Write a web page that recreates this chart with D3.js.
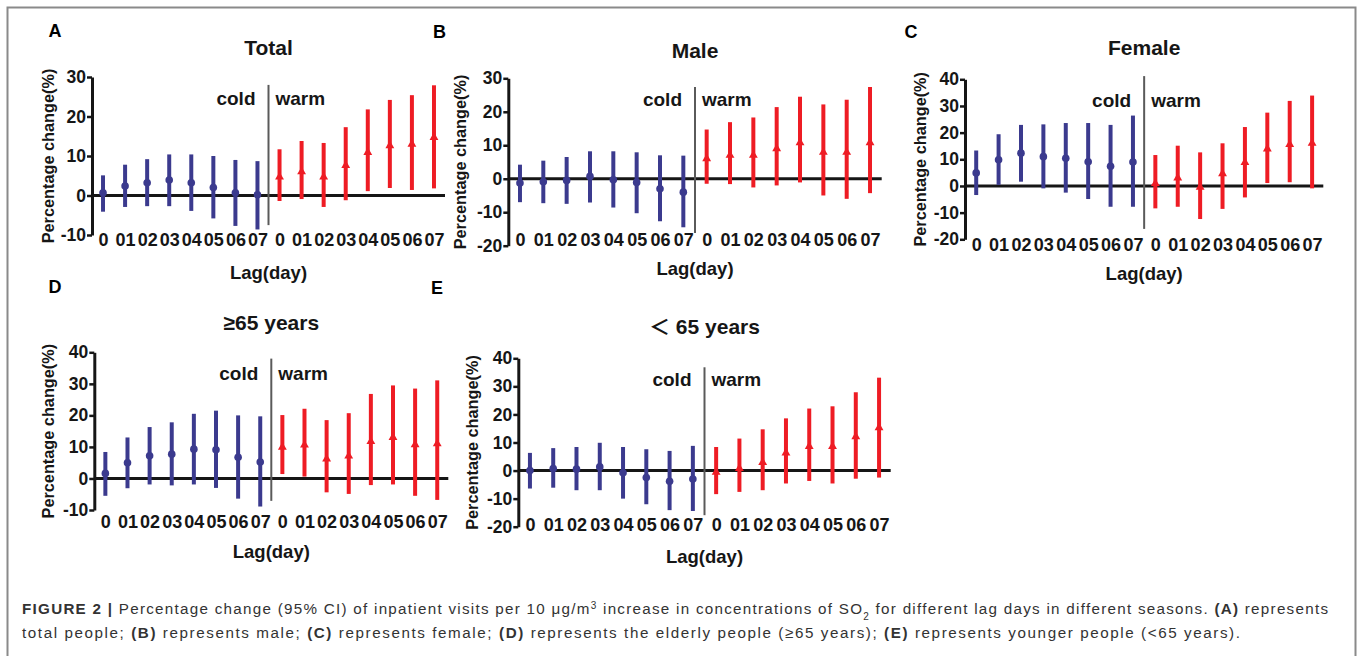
<!DOCTYPE html>
<html>
<head>
<meta charset="utf-8">
<script src="https://cdn.jsdelivr.net/npm/d3@7"></script>
<style>
  html, body { margin: 0; padding: 0; background: #fff; }
  svg { display: block; }
  text { font-family: "Liberation Sans", Arial, "Noto Sans CJK SC", sans-serif; }
</style>
</head>
<body>
<svg id="chart" width="1358" height="656"></svg>
<script>
// ---------- DATA ----------
const lagLabels = ["0", "01", "02", "03", "04", "05", "06", "07"];
const seasons = ["cold", "warm"];

// Panel A: Total
const totalColdEst = [0.7, 2.4, 3.2, 3.9, 3.2, 2.0, 0.7, 0.2];
const totalColdLo  = [-4.1, -2.9, -2.7, -2.7, -3.9, -5.8, -7.7, -8.6];
const totalColdHi  = [5.1, 7.8, 9.2, 10.4, 10.4, 10.0, 9.0, 8.7];
const totalWarmEst = [4.7, 6.0, 4.7, 7.6, 10.9, 12.6, 13.0, 14.7];
const totalWarmLo  = [-1.4, -0.9, -2.9, -1.2, 1.1, 1.9, 1.4, 1.8];
const totalWarmHi  = [11.7, 13.8, 13.3, 17.3, 21.8, 24.2, 25.4, 27.9];

// Panel B: Male
const maleColdEst = [-1.3, -0.9, -0.5, 0.7, -0.3, -1.1, -3.0, -4.0];
const maleColdLo  = [-7.0, -7.3, -7.5, -7.1, -8.6, -10.3, -12.7, -14.5];
const maleColdHi  = [4.2, 5.4, 6.5, 8.2, 8.2, 7.9, 7.0, 6.9];
const maleWarmEst = [6.0, 7.0, 7.0, 9.0, 10.8, 7.9, 7.9, 10.8];
const maleWarmLo  = [-1.5, -1.6, -2.6, -2.0, -1.1, -5.0, -6.0, -4.3];
const maleWarmHi  = [14.7, 16.9, 18.3, 21.4, 24.5, 22.2, 23.6, 27.4];

// Panel C: Female
const femaleColdEst = [4.9, 9.8, 12.3, 11.0, 10.4, 9.1, 7.4, 9.0];
const femaleColdLo  = [-3.4, 0.4, 1.6, -0.9, -2.5, -4.9, -7.8, -7.8];
const femaleColdHi  = [13.3, 19.4, 22.9, 23.1, 23.6, 23.6, 22.9, 26.4];
const femaleWarmEst = [0.9, 3.0, -0.5, 4.6, 8.8, 13.9, 15.6, 16.0];
const femaleWarmLo  = [-8.4, -7.8, -12.4, -8.6, -4.3, 1.1, 1.4, -0.9];
const femaleWarmHi  = [11.6, 15.1, 12.6, 16.0, 22.1, 27.5, 31.9, 33.9];

// Panel D: >=65 years
const oldColdEst = [1.6, 5.0, 7.2, 7.7, 9.3, 9.1, 6.7, 5.2];
const oldColdLo  = [-5.5, -3.1, -1.9, -2.2, -1.9, -3.0, -6.4, -8.9];
const oldColdHi  = [8.4, 13.0, 16.3, 17.8, 20.5, 21.5, 20.0, 19.7];
const oldWarmEst = [9.9, 10.6, 6.2, 7.1, 11.7, 13.0, 10.7, 11.0];
const oldWarmLo  = [1.4, 0.6, -4.4, -4.9, -2.1, -1.9, -5.5, -6.8];
const oldWarmHi  = [20.1, 22.1, 18.5, 20.7, 26.8, 29.5, 28.5, 31.1];

// Panel E: <65 years
const youngColdEst = [0.0, 0.7, 0.5, 1.3, -0.8, -2.5, -3.8, -3.0];
const youngColdLo  = [-6.4, -6.1, -7.0, -7.0, -10.0, -12.0, -14.1, -14.4];
const youngColdHi  = [6.3, 8.0, 8.4, 9.9, 8.4, 7.6, 7.0, 8.8];
const youngWarmEst = [-0.6, 0.8, 2.9, 6.3, 8.6, 8.6, 12.1, 15.3];
const youngWarmLo  = [-8.4, -7.6, -7.0, -4.6, -3.7, -4.6, -2.9, -2.5];
const youngWarmHi  = [8.4, 11.4, 14.7, 18.6, 22.1, 22.9, 27.9, 33.1];

const panelLetters = ["A", "B", "C", "D", "E"];
const panelTitles = ["Total", "Male", "Female", "≥65 years", "＜ 65 years"];
const yDomains = [[-10, 30], [-20, 30], [-20, 40], [-10, 40], [-20, 40]];
const yTickValues = [
  [-10, 0, 10, 20, 30],
  [-20, -10, 0, 10, 20, 30],
  [-20, -10, 0, 10, 20, 30, 40],
  [-10, 0, 10, 20, 30, 40],
  [-20, -10, 0, 10, 20, 30, 40]
];
const dividerSpans = [[28, -7.5], [27.4, -16.2], [41.2, -16.1], [38, -7.1], [36.8, -15.9]];
const yAxisTitle = "Percentage change(%)";
const xAxisTitle = "Lag(day)";

const panelData = [
  { cold: [totalColdEst, totalColdLo, totalColdHi], warm: [totalWarmEst, totalWarmLo, totalWarmHi] },
  { cold: [maleColdEst, maleColdLo, maleColdHi], warm: [maleWarmEst, maleWarmLo, maleWarmHi] },
  { cold: [femaleColdEst, femaleColdLo, femaleColdHi], warm: [femaleWarmEst, femaleWarmLo, femaleWarmHi] },
  { cold: [oldColdEst, oldColdLo, oldColdHi], warm: [oldWarmEst, oldWarmLo, oldWarmHi] },
  { cold: [youngColdEst, youngColdLo, youngColdHi], warm: [youngWarmEst, youngWarmLo, youngWarmHi] }
];

// ---------- LAYOUT ----------
const layouts = [
  { x0: 92,    x1: 445,    yTop: 77,    yBot: 235,   tickY: 240,   xlabY: 272,   titleY: 47,  letter: [55, 31],   ylabDx: -44 },
  { x0: 508.3, x1: 881.7,  yTop: 78.3,  yBot: 245.7, tickY: 240,   xlabY: 268,   titleY: 50,  letter: [439.5, 31.5], ylabDx: -48 },
  { x0: 965,   x1: 1323.3, yTop: 79.3,  yBot: 239.3, tickY: 245,   xlabY: 273,   titleY: 47,  letter: [911, 31.5], ylabDx: -45 },
  { x0: 94.3,  x1: 448.3,  yTop: 352.3, yBot: 510,   tickY: 521.7, xlabY: 551.7, titleY: 322, letter: [55, 287],  ylabDx: -46 },
  { x0: 518.3, x1: 890.7,  yTop: 358.3, yBot: 526.7, tickY: 525,   xlabY: 556.7, titleY: 326, letter: [437, 288], ylabDx: -46.6 }
];

const COLD = "#3b3a8e";
const WARM = "#ee1c24";
const INK = "#161616";

const svg = d3.select("#chart");

// frame
svg.append("path")
  .attr("d", "M7.5,660 L7.5,7.5 L1355.5,7.5 L1355.5,660")
  .attr("fill", "none").attr("stroke", "#8a8a8a").attr("stroke-width", 2);

const keys = [];
seasons.forEach(s => lagLabels.forEach((l, i) => keys.push(s + i)));

panelData.forEach((pd, p) => {
  const L = layouts[p];
  const g = svg.append("g");
  const x = d3.scalePoint().domain(keys).range([L.x0, L.x1]).padding(0.5);
  const y = d3.scaleLinear().domain(yDomains[p]).range([L.yBot, L.yTop]);

  // y axis
  const ya = g.append("g").attr("transform", `translate(${L.x0},0)`)
    .call(d3.axisLeft(y).tickValues(yTickValues[p]).tickFormat(v => String(v))
      .tickSize(5).tickSizeOuter(0).tickPadding(1));
  ya.select(".domain").attr("stroke", INK).attr("stroke-width", 3);
  ya.selectAll(".tick line").attr("stroke", INK).attr("stroke-width", 2.5);
  ya.selectAll(".tick text").attr("fill", INK).style("font-size", "17.5px").style("font-weight", "bold")
    .attr("font-family", null);

  // x tick labels
  const xa = g.append("g").attr("transform", `translate(0,${L.tickY})`)
    .call(d3.axisBottom(x).tickSize(0).tickPadding(0).tickFormat(k => lagLabels[+k.slice(4)]));
  xa.select(".domain").remove();
  xa.selectAll(".tick text").attr("fill", INK).attr("dy", null).attr("y", 0)
    .attr("dominant-baseline", "central")
    .style("font-size", "18px").style("font-weight", "bold").attr("font-family", null);

  // zero line
  g.append("line")
    .attr("x1", L.x0).attr("x2", L.x1)
    .attr("y1", y(0)).attr("y2", y(0))
    .attr("stroke", INK).attr("stroke-width", 3);

  // divider
  const xd = (x("cold7") + x("warm0")) / 2;
  g.append("line")
    .attr("x1", xd).attr("x2", xd)
    .attr("y1", y(dividerSpans[p][0])).attr("y2", y(dividerSpans[p][1]))
    .attr("stroke", "#5a5a5a").attr("stroke-width", 2);

  // season labels
  g.append("text").attr("x", xd - 13).attr("y", L.yTop + 21)
    .attr("text-anchor", "end").attr("dominant-baseline", "central")
    .attr("fill", INK).style("font-size", "19px").style("font-weight", "bold").text(seasons[0]);
  g.append("text").attr("x", xd + 7).attr("y", L.yTop + 21)
    .attr("text-anchor", "start").attr("dominant-baseline", "central")
    .attr("fill", INK).style("font-size", "19px").style("font-weight", "bold").text(seasons[1]);

  // error bars + markers
  seasons.forEach(s => {
    const [est, lo, hi] = pd[s];
    const color = s === "cold" ? COLD : WARM;
    const rows = est.map((e, i) => ({ k: s + i, e, lo: lo[i], hi: hi[i] }));
    g.selectAll(null).data(rows).enter().append("line")
      .attr("x1", d => x(d.k)).attr("x2", d => x(d.k))
      .attr("y1", d => y(d.hi)).attr("y2", d => y(d.lo))
      .attr("stroke", color).attr("stroke-width", 4);
    if (s === "cold") {
      g.selectAll(null).data(rows).enter().append("circle")
        .attr("cx", d => x(d.k)).attr("cy", d => y(d.e)).attr("r", 3.8)
        .attr("fill", color);
    } else {
      g.selectAll(null).data(rows).enter().append("path")
        .attr("transform", d => `translate(${x(d.k)},${y(d.e)})`)
        .attr("d", d3.symbol(d3.symbolTriangle, 34)())
        .attr("fill", color);
    }
  });

  // titles
  const cx = (L.x0 + L.x1) / 2;
  g.append("text").attr("x", cx).attr("y", L.titleY)
    .attr("text-anchor", "middle").attr("dominant-baseline", "central")
    .attr("fill", INK).style("font-size", "21px").style("font-weight", "bold").text(panelTitles[p]);
  g.append("text").attr("x", L.letter[0]).attr("y", L.letter[1])
    .attr("text-anchor", "middle").attr("dominant-baseline", "central")
    .attr("fill", "#000").style("font-size", "18px").style("font-weight", "bold").text(panelLetters[p]);
  g.append("text").attr("x", cx).attr("y", L.xlabY)
    .attr("text-anchor", "middle").attr("dominant-baseline", "central")
    .attr("fill", INK).style("font-size", "18.5px").style("font-weight", "bold").text(xAxisTitle);
  const ycx = L.x0 + L.ylabDx, ycy = (L.yTop + L.yBot) / 2;
  g.append("text").attr("transform", `translate(${ycx},${ycy}) rotate(-90)`)
    .attr("text-anchor", "middle").attr("dominant-baseline", "central")
    .attr("fill", INK).style("font-size", "16.3px").style("font-weight", "bold").text(yAxisTitle);
});

// caption
const cap = svg.append("g").attr("fill", "#333").style("font-size", "15.2px");
const line1 = cap.append("text").attr("x", 22).attr("y", 614)
  .attr("textLength", 1306).attr("lengthAdjust", "spacing");
[
  ["b", "FIGURE 2 | "],
  ["n", "Percentage change (95% CI) of inpatient visits per 10 μg/m"],
  ["sup", "3"],
  ["n", " increase in concentrations of SO"],
  ["sub", "2"],
  ["n", " for different lag days in different seasons. "],
  ["b", "(A)"],
  ["n", " represents"]
].forEach(([t, s]) => {
  const ts = line1.append("tspan").text(s);
  if (t === "b") ts.style("font-weight", "bold");
  if (t === "sup") ts.attr("baseline-shift", "super").style("font-size", "10px");
  if (t === "sub") ts.attr("baseline-shift", "sub").style("font-size", "10px");
});

const line2 = cap.append("text").attr("x", 22).attr("y", 637.5)
  .attr("textLength", 1218).attr("lengthAdjust", "spacing");
[
  ["n", "total people; "], ["b", "(B)"], ["n", " represents male; "], ["b", "(C)"],
  ["n", " represents female; "], ["b", "(D)"], ["n", " represents the elderly people (≥65 years); "],
  ["b", "(E)"], ["n", " represents younger people (<65 years)."]
].forEach(([t, s]) => {
  const ts = line2.append("tspan").text(s);
  if (t === "b") ts.style("font-weight", "bold");
});
</script>
</body>
</html>
